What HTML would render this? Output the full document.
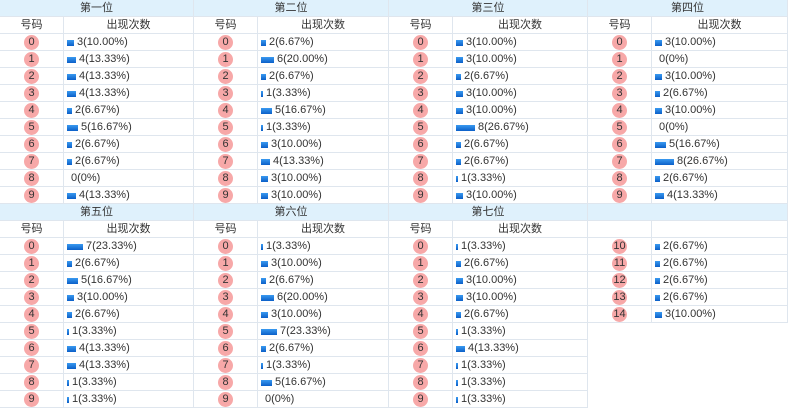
<!DOCTYPE html>
<html><head><meta charset="utf-8"><style>
body{margin:0;width:788px;height:409px;overflow:hidden;background:#fff;font-family:"Liberation Sans","Noto Sans CJK SC",sans-serif;font-size:11px;color:#333;position:relative}
.h,.s,.r{position:absolute;height:16px;border-bottom:1px solid #dfe6ee;border-right:1px solid #dfe6ee;box-sizing:content-box}
.h{background:#dff1fc;text-align:center;line-height:16px}
.s,.r{display:flex;line-height:16px}
.s span:first-child,.r i{width:63px;border-right:1px solid #dfe6ee;text-align:center;flex:none}
.s span:last-child{flex:1;text-align:center}
.r i{font-style:normal;position:relative;z-index:1}
.r i::before{content:"";position:absolute;left:24px;top:1px;width:15px;height:15px;border-radius:50%;background:#f7a8a8;z-index:-1}
.r b{display:inline-block;height:6px;margin:6px 3px 0 3px;background:linear-gradient(#3a9af0,#0b5fc8);flex:none}
.r b.z{width:0;margin-right:4px}
.a{left:0;width:193px}.b{left:194px;width:194px}.c{left:389px;width:198px}.d{left:588px;width:199px}
</style></head><body>
<div class="h a" style="top:0">第一位</div><div class="h b" style="top:0">第二位</div><div class="h c" style="top:0">第三位</div><div class="h d" style="top:0">第四位</div>
<div class="s a" style="top:17px"><span>号码</span><span>出现次数</span></div><div class="s b" style="top:17px"><span>号码</span><span>出现次数</span></div><div class="s c" style="top:17px"><span>号码</span><span>出现次数</span></div><div class="s d" style="top:17px"><span>号码</span><span>出现次数</span></div>
<div class="r a" style="top:34px"><i>0</i><b style="width:7px"></b>3(10.00%)</div>
<div class="r a" style="top:51px"><i>1</i><b style="width:9px"></b>4(13.33%)</div>
<div class="r a" style="top:68px"><i>2</i><b style="width:9px"></b>4(13.33%)</div>
<div class="r a" style="top:85px"><i>3</i><b style="width:9px"></b>4(13.33%)</div>
<div class="r a" style="top:102px"><i>4</i><b style="width:5px"></b>2(6.67%)</div>
<div class="r a" style="top:119px"><i>5</i><b style="width:11px"></b>5(16.67%)</div>
<div class="r a" style="top:136px"><i>6</i><b style="width:5px"></b>2(6.67%)</div>
<div class="r a" style="top:153px"><i>7</i><b style="width:5px"></b>2(6.67%)</div>
<div class="r a" style="top:170px"><i>8</i><b class="z"></b>0(0%)</div>
<div class="r a" style="top:187px"><i>9</i><b style="width:9px"></b>4(13.33%)</div>
<div class="r b" style="top:34px"><i>0</i><b style="width:5px"></b>2(6.67%)</div>
<div class="r b" style="top:51px"><i>1</i><b style="width:13px"></b>6(20.00%)</div>
<div class="r b" style="top:68px"><i>2</i><b style="width:5px"></b>2(6.67%)</div>
<div class="r b" style="top:85px"><i>3</i><b style="width:2px"></b>1(3.33%)</div>
<div class="r b" style="top:102px"><i>4</i><b style="width:11px"></b>5(16.67%)</div>
<div class="r b" style="top:119px"><i>5</i><b style="width:2px"></b>1(3.33%)</div>
<div class="r b" style="top:136px"><i>6</i><b style="width:7px"></b>3(10.00%)</div>
<div class="r b" style="top:153px"><i>7</i><b style="width:9px"></b>4(13.33%)</div>
<div class="r b" style="top:170px"><i>8</i><b style="width:7px"></b>3(10.00%)</div>
<div class="r b" style="top:187px"><i>9</i><b style="width:7px"></b>3(10.00%)</div>
<div class="r c" style="top:34px"><i>0</i><b style="width:7px"></b>3(10.00%)</div>
<div class="r c" style="top:51px"><i>1</i><b style="width:7px"></b>3(10.00%)</div>
<div class="r c" style="top:68px"><i>2</i><b style="width:5px"></b>2(6.67%)</div>
<div class="r c" style="top:85px"><i>3</i><b style="width:7px"></b>3(10.00%)</div>
<div class="r c" style="top:102px"><i>4</i><b style="width:7px"></b>3(10.00%)</div>
<div class="r c" style="top:119px"><i>5</i><b style="width:19px"></b>8(26.67%)</div>
<div class="r c" style="top:136px"><i>6</i><b style="width:5px"></b>2(6.67%)</div>
<div class="r c" style="top:153px"><i>7</i><b style="width:5px"></b>2(6.67%)</div>
<div class="r c" style="top:170px"><i>8</i><b style="width:2px"></b>1(3.33%)</div>
<div class="r c" style="top:187px"><i>9</i><b style="width:7px"></b>3(10.00%)</div>
<div class="r d" style="top:34px"><i>0</i><b style="width:7px"></b>3(10.00%)</div>
<div class="r d" style="top:51px"><i>1</i><b class="z"></b>0(0%)</div>
<div class="r d" style="top:68px"><i>2</i><b style="width:7px"></b>3(10.00%)</div>
<div class="r d" style="top:85px"><i>3</i><b style="width:5px"></b>2(6.67%)</div>
<div class="r d" style="top:102px"><i>4</i><b style="width:7px"></b>3(10.00%)</div>
<div class="r d" style="top:119px"><i>5</i><b class="z"></b>0(0%)</div>
<div class="r d" style="top:136px"><i>6</i><b style="width:11px"></b>5(16.67%)</div>
<div class="r d" style="top:153px"><i>7</i><b style="width:19px"></b>8(26.67%)</div>
<div class="r d" style="top:170px"><i>8</i><b style="width:5px"></b>2(6.67%)</div>
<div class="r d" style="top:187px"><i>9</i><b style="width:9px"></b>4(13.33%)</div>
<div class="h a" style="top:204px">第五位</div><div class="h b" style="top:204px">第六位</div><div class="h c" style="top:204px">第七位</div><div class="h d" style="top:204px"></div>
<div class="s a" style="top:221px"><span>号码</span><span>出现次数</span></div><div class="s b" style="top:221px"><span>号码</span><span>出现次数</span></div><div class="s c" style="top:221px"><span>号码</span><span>出现次数</span></div><div class="s d" style="top:221px"><span></span><span></span></div>
<div class="r a" style="top:238px"><i>0</i><b style="width:16px"></b>7(23.33%)</div>
<div class="r a" style="top:255px"><i>1</i><b style="width:5px"></b>2(6.67%)</div>
<div class="r a" style="top:272px"><i>2</i><b style="width:11px"></b>5(16.67%)</div>
<div class="r a" style="top:289px"><i>3</i><b style="width:7px"></b>3(10.00%)</div>
<div class="r a" style="top:306px"><i>4</i><b style="width:5px"></b>2(6.67%)</div>
<div class="r a" style="top:323px"><i>5</i><b style="width:2px"></b>1(3.33%)</div>
<div class="r a" style="top:340px"><i>6</i><b style="width:9px"></b>4(13.33%)</div>
<div class="r a" style="top:357px"><i>7</i><b style="width:9px"></b>4(13.33%)</div>
<div class="r a" style="top:374px"><i>8</i><b style="width:2px"></b>1(3.33%)</div>
<div class="r a" style="top:391px"><i>9</i><b style="width:2px"></b>1(3.33%)</div>
<div class="r b" style="top:238px"><i>0</i><b style="width:2px"></b>1(3.33%)</div>
<div class="r b" style="top:255px"><i>1</i><b style="width:7px"></b>3(10.00%)</div>
<div class="r b" style="top:272px"><i>2</i><b style="width:5px"></b>2(6.67%)</div>
<div class="r b" style="top:289px"><i>3</i><b style="width:13px"></b>6(20.00%)</div>
<div class="r b" style="top:306px"><i>4</i><b style="width:7px"></b>3(10.00%)</div>
<div class="r b" style="top:323px"><i>5</i><b style="width:16px"></b>7(23.33%)</div>
<div class="r b" style="top:340px"><i>6</i><b style="width:5px"></b>2(6.67%)</div>
<div class="r b" style="top:357px"><i>7</i><b style="width:2px"></b>1(3.33%)</div>
<div class="r b" style="top:374px"><i>8</i><b style="width:11px"></b>5(16.67%)</div>
<div class="r b" style="top:391px"><i>9</i><b class="z"></b>0(0%)</div>
<div class="r c" style="top:238px"><i>0</i><b style="width:2px"></b>1(3.33%)</div>
<div class="r c" style="top:255px"><i>1</i><b style="width:5px"></b>2(6.67%)</div>
<div class="r c" style="top:272px"><i>2</i><b style="width:7px"></b>3(10.00%)</div>
<div class="r c" style="top:289px"><i>3</i><b style="width:7px"></b>3(10.00%)</div>
<div class="r c" style="top:306px"><i>4</i><b style="width:5px"></b>2(6.67%)</div>
<div class="r c" style="top:323px"><i>5</i><b style="width:2px"></b>1(3.33%)</div>
<div class="r c" style="top:340px"><i>6</i><b style="width:9px"></b>4(13.33%)</div>
<div class="r c" style="top:357px"><i>7</i><b style="width:2px"></b>1(3.33%)</div>
<div class="r c" style="top:374px"><i>8</i><b style="width:2px"></b>1(3.33%)</div>
<div class="r c" style="top:391px"><i>9</i><b style="width:2px"></b>1(3.33%)</div>
<div class="r d" style="top:238px"><i>10</i><b style="width:5px"></b>2(6.67%)</div>
<div class="r d" style="top:255px"><i>11</i><b style="width:5px"></b>2(6.67%)</div>
<div class="r d" style="top:272px"><i>12</i><b style="width:5px"></b>2(6.67%)</div>
<div class="r d" style="top:289px"><i>13</i><b style="width:5px"></b>2(6.67%)</div>
<div class="r d" style="top:306px"><i>14</i><b style="width:7px"></b>3(10.00%)</div>
</body></html>
